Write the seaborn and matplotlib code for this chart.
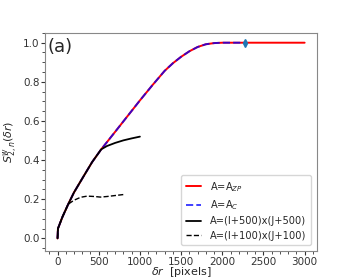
import numpy as np
import pandas as pd
import matplotlib
matplotlib.use("Agg")
import matplotlib.pyplot as plt
from matplotlib.ticker import MultipleLocator
import seaborn as sns

# structure function, full-size Zernike/pupil area (A = A_ZP)
x_zp = [0, 5, 60, 130, 200, 320, 420, 530, 700, 850, 1000, 1150, 1300, 1400,
        1500, 1600, 1700, 1800, 1900, 2000, 2200, 2400, 2600, 2800, 3000]
y_zp = [0.0, 0.05, 0.11, 0.175, 0.235, 0.32, 0.39, 0.455, 0.545, 0.625, 0.705,
        0.782, 0.856, 0.895, 0.928, 0.956, 0.978, 0.992, 0.998, 1.0, 1.0, 1.0,
        1.0, 1.0, 1.0]

# A = A_C (ends at the marked point)
x_c = [0, 5, 60, 130, 200, 320, 420, 530, 700, 850, 1000, 1150, 1300, 1400,
       1500, 1600, 1700, 1800, 1900, 2000, 2150, 2280]
y_c = [0.0, 0.05, 0.11, 0.175, 0.235, 0.32, 0.39, 0.455, 0.545, 0.625, 0.705,
       0.782, 0.856, 0.895, 0.928, 0.956, 0.978, 0.992, 0.998, 1.0, 1.0, 1.0]

# A = (I+500)x(J+500)
x_500 = [0, 5, 60, 130, 200, 320, 420, 530, 600, 700, 800, 900, 1000]
y_500 = [0.0, 0.05, 0.11, 0.175, 0.235, 0.32, 0.39, 0.455, 0.472, 0.488,
         0.501, 0.511, 0.52]

# A = (I+100)x(J+100)
x_100 = [0, 5, 60, 130, 200, 280, 360, 450, 520, 600, 700, 800]
y_100 = [0.0, 0.05, 0.11, 0.175, 0.195, 0.21, 0.216, 0.214, 0.211, 0.214,
         0.219, 0.224]

# marked point
x_mark = [2280]
y_mark = [1.0]
yerr_mark = [0.012]

labels = ["A=A$_{ZP}$", "A=A$_{C}$", "A=(I+500)x(J+500)", "A=(I+100)x(J+100)"]

sns.set_style("ticks")
plt.rcParams["font.family"] = ["DejaVu Sans"]

fig = plt.figure(figsize=(3.53, 2.79), dpi=100)
ax = fig.add_axes([0.128, 0.10, 0.77, 0.782])

sns.lineplot(x=x_zp, y=y_zp, ax=ax, color="red", lw=1.4, label=labels[0])
sns.lineplot(x=x_c, y=y_c, ax=ax, color="blue", lw=1.4, alpha=0.75,
             linestyle="--", label=labels[1])
sns.lineplot(x=x_500, y=y_500, ax=ax, color="black", lw=1.3, label=labels[2])
sns.lineplot(x=x_100, y=y_100, ax=ax, color="black", lw=1.0,
             linestyle="--", label=labels[3])
ax.errorbar(x_mark, y_mark, yerr=yerr_mark, fmt="d", color="#1f77b4",
            ms=4, elinewidth=1, zorder=5)

ax.set_xlim(-150, 3150)
ax.set_ylim(-0.065, 1.05)
ax.xaxis.set_major_locator(MultipleLocator(500))
ax.xaxis.set_minor_locator(MultipleLocator(100))
ax.yaxis.set_major_locator(MultipleLocator(0.2))
ax.yaxis.set_minor_locator(MultipleLocator(0.05))
ax.tick_params(which="major", labelsize=7.5, length=3, width=0.8, pad=1,
               colors="#333333")
ax.tick_params(which="minor", length=2, width=0.6, colors="#333333")
for s in ax.spines.values():
    s.set_color("#888888")
    s.set_linewidth(0.8)

ax.set_xlabel(r"$\delta r$  [pixels]", fontsize=8, labelpad=-1)
ax.set_ylabel(r"$S^{w}_{2,n}(\delta r)$", fontsize=8, labelpad=2)
ax.text(0.01, 0.975, "(a)", transform=ax.transAxes, fontsize=13,
        va="top", ha="left")

leg = ax.legend(loc="lower right", fontsize=7.1, frameon=True,
                handlelength=1.6, handletextpad=0.9, borderpad=0.45,
                labelspacing=0.45, borderaxespad=0.6)
leg.get_frame().set_edgecolor("#cccccc")

fig.savefig("out.png", dpi=100)
